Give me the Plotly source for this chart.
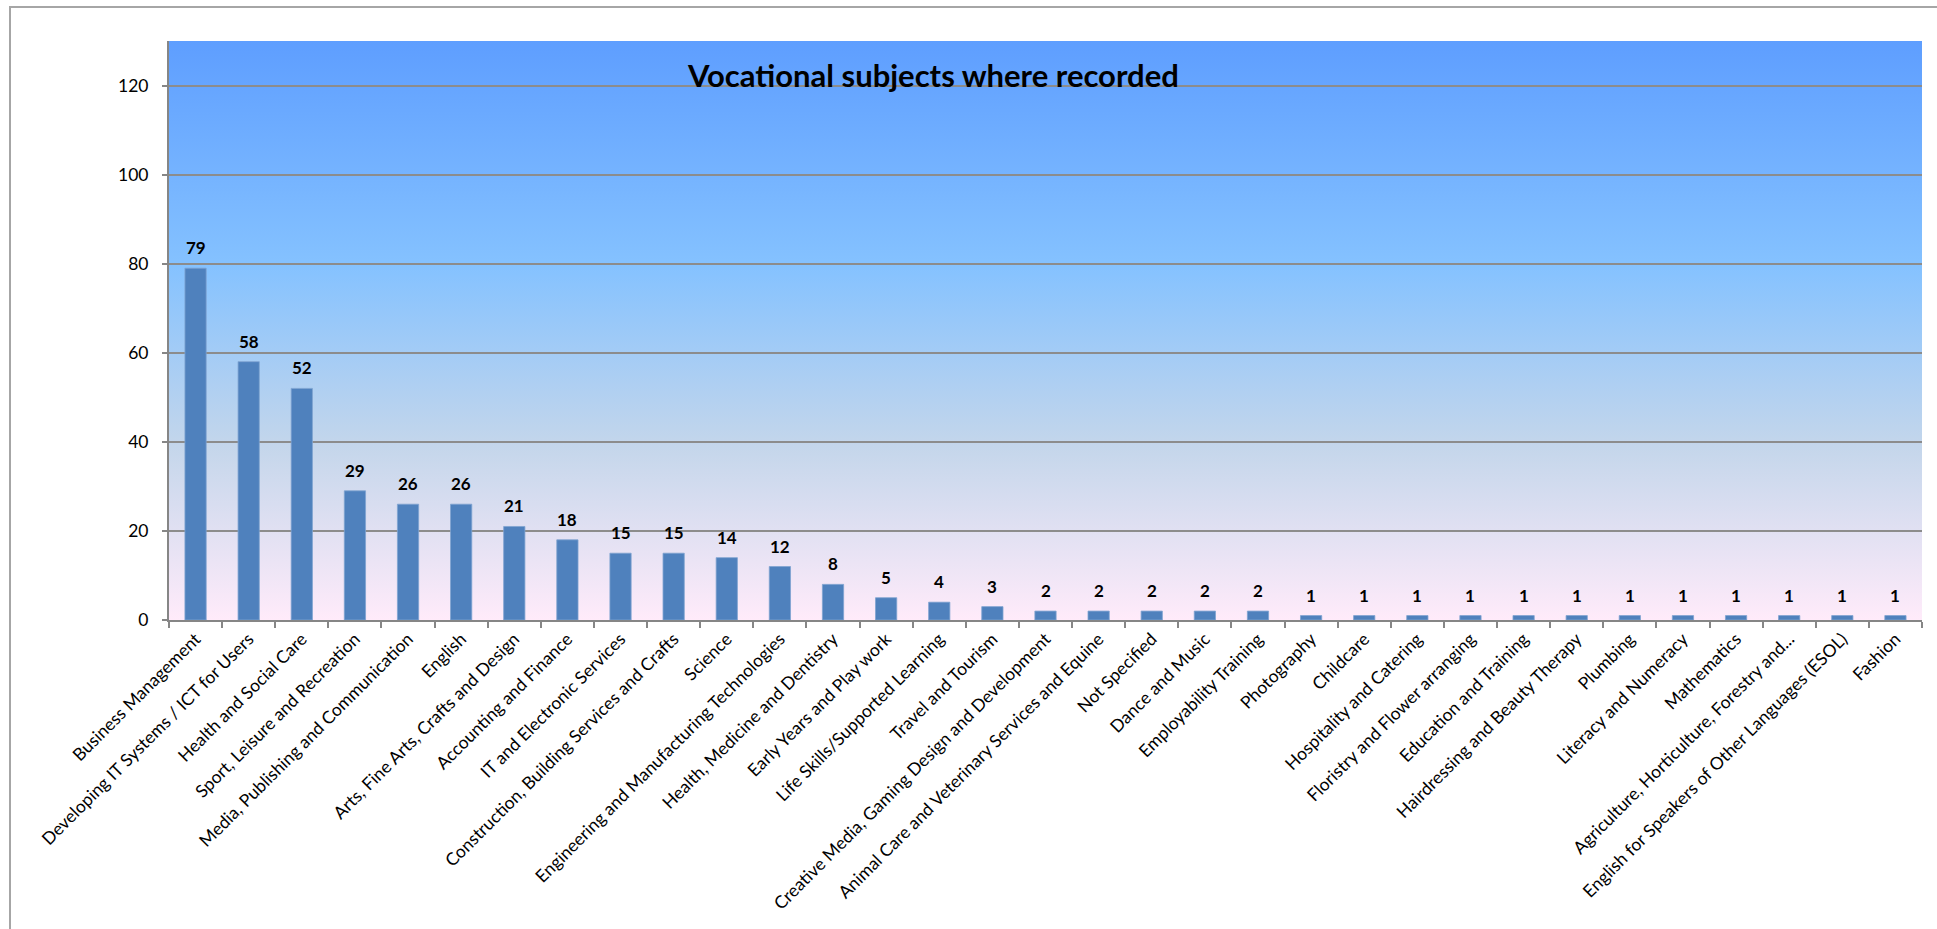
import plotly.graph_objects as go
import urllib.parse

categories = [
    "Business Management",
    "Developing IT Systems / ICT for Users",
    "Health and Social Care",
    "Sport, Leisure and Recreation",
    "Media, Publishing and Communication",
    "English",
    "Arts, Fine Arts, Crafts and Design",
    "Accounting and Finance",
    "IT and Electronic Services",
    "Construction, Building Services and Crafts",
    "Science",
    "Engineering and Manufacturing Technologies",
    "Health, Medicine and Dentistry",
    "Early Years and Play work",
    "Life Skills/Supported Learning",
    "Travel and Tourism",
    "Creative Media, Gaming Design and Development",
    "Animal Care and Veterinary Services and Equine",
    "Not Specified",
    "Dance and Music",
    "Employability Training",
    "Photography",
    "Childcare",
    "Hospitality and Catering",
    "Floristry and Flower arranging",
    "Education and Training",
    "Hairdressing and Beauty Therapy",
    "Plumbing",
    "Literacy and Numeracy",
    "Mathematics",
    "Agriculture, Horticulture, Forestry and...",
    "English for Speakers of Other Languages (ESOL)",
    "Fashion",
]
values = [79, 58, 52, 29, 26, 26, 21, 18, 15, 15, 14, 12, 8, 5, 4, 3,
          2, 2, 2, 2, 2, 1, 1, 1, 1, 1, 1, 1, 1, 1, 1, 1, 1]
y_ticks = [0, 20, 40, 60, 80, 100, 120]
title_text = "Vocational subjects where recorded"

W, H = 1937, 929
ML, MR, MT, MB = 169, 15, 41, 309
PW, PH = W - ML - MR, H - MT - MB

FONT = "Lato, 'Open Sans', sans-serif"
AXIS_GRAY = "#868686"

# Excel "Daybreak"-style vertical gradient for the plot area
svg = (
    "<svg xmlns='http://www.w3.org/2000/svg' width='200' height='1000'>"
    "<defs><linearGradient id='g' x1='0' y1='0' x2='0' y2='1'>"
    "<stop offset='0' stop-color='#5E9EFF'/>"
    "<stop offset='0.39' stop-color='#85C2FF'/>"
    "<stop offset='0.70' stop-color='#C4D6EB'/>"
    "<stop offset='1' stop-color='#FFEBFA'/>"
    "</linearGradient></defs>"
    "<rect width='200' height='1000' fill='url(#g)'/></svg>"
)
svg_uri = "data:image/svg+xml;charset=utf-8," + urllib.parse.quote(svg)

fig = go.Figure()
fig.add_trace(go.Bar(
    x=categories, y=values,
    marker=dict(color="#4F81BD", line=dict(color="#7FA3D0", width=0.8)),
    hoverinfo="x+y",
))

annotations = [
    dict(x=c, y=v, xref="x", yref="y", text=f"<b>{v}</b>", showarrow=False,
         yanchor="bottom", yshift=8, font=dict(family=FONT, size=17, color="#000000"))
    for c, v in zip(categories, values)
]
annotations.append(dict(
    xref="paper", yref="paper",
    x=(933 - ML) / PW, y=(H - MB - 75) / PH,
    xanchor="center", yanchor="middle", showarrow=False,
    text=f"<b>{title_text}</b>",
    font=dict(family=FONT, size=31, color="#000000"),
))

fig.update_layout(
    width=W, height=H, autosize=False,
    margin=dict(l=ML, r=MR, t=MT, b=MB, pad=0),
    paper_bgcolor="#FFFFFF",
    plot_bgcolor="rgba(0,0,0,0)",
    bargap=0.6,
    showlegend=False,
    font=dict(family=FONT, size=17, color="#000000"),
    annotations=annotations,
    images=[dict(source=svg_uri, xref="paper", yref="paper", x=0, y=1,
                 sizex=1, sizey=1, xanchor="left", yanchor="top",
                 sizing="stretch", layer="below")],
    shapes=[dict(type="rect", xref="paper", yref="paper",
                 x0=(10 - ML) / PW, x1=(W + 50 - ML) / PW,
                 y0=(H - MB - (H + 50)) / PH, y1=(H - MB - 7) / PH,
                 line=dict(color="#A6A6A6", width=2), fillcolor="rgba(0,0,0,0)",
                 layer="below")],
)

fig.update_xaxes(
    type="category", tickangle=-45, tickson="boundaries",
    ticks="outside", ticklen=6, tickwidth=1.5, tickcolor=AXIS_GRAY,
    showline=True, linecolor=AXIS_GRAY, linewidth=2,
    showgrid=False, tickfont=dict(family=FONT, size=17.5, color="#000000"),
    automargin=False, fixedrange=True,
)
fig.update_yaxes(
    range=[0, 130], tickvals=y_ticks, ticktext=[str(t) for t in y_ticks],
    ticks="outside", ticklen=5, tickwidth=1.5, tickcolor=AXIS_GRAY,
    showline=True, linecolor=AXIS_GRAY, linewidth=2,
    showgrid=True, gridcolor="#8C8C8C", gridwidth=1.5,
    zeroline=False, ticklabelstandoff=10,
    tickfont=dict(family=FONT, size=17.5, color="#000000"),
    automargin=False, fixedrange=True,
)

fig.write_html("out.html", config={"displayModeBar": False},
               post_script="document.body.style.margin='0';")
